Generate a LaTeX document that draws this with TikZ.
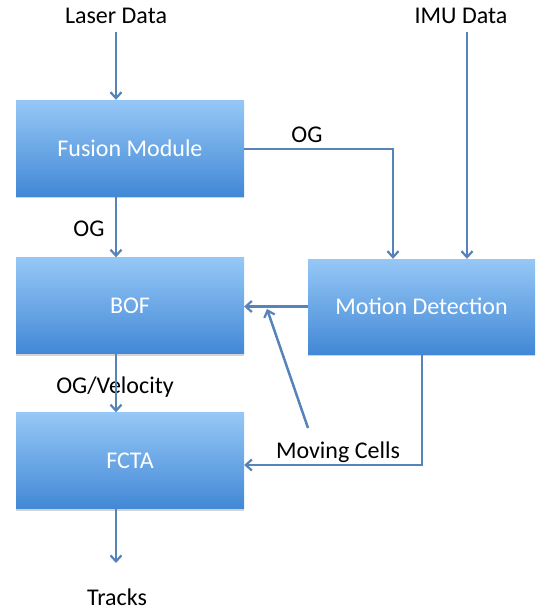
\documentclass[tikz,border=0pt]{standalone}
\usepackage{fontspec}
\setmainfont{Carlito}
\usetikzlibrary{arrows.meta,shadows}
\definecolor{lineblue}{RGB}{86,131,186}
\definecolor{boxtop}{RGB}{150,200,246}
\definecolor{boxbot}{RGB}{66,136,214}
\tikzset{
  box/.style={rectangle, minimum width=228pt, minimum height=96pt, inner sep=0pt,
    top color=boxtop, bottom color=boxbot, draw=none, text=white,
    font=\fontsize{24}{28}\selectfont,
    drop shadow={shadow xshift=0pt, shadow yshift=-2pt, opacity=0.35, fill=gray}},
  lbl/.style={font=\fontsize{24}{28}\selectfont, text=black, inner sep=2pt},
  arr/.style={draw=lineblue, line width=2.5pt, -{Straight Barb[length=6pt,width=11pt,line width=2.2pt]}}
}
\begin{document}
\begin{tikzpicture}[x=1pt,y=-1pt]
\useasboundingbox (0,0) rectangle (540,613);
\node[box] (fus) at (130,148) {Fusion Module};
\node[box] (bof) at (130,305.5) {BOF};
\node[box] (fcta) at (130,460.5) {FCTA};
\node[box, minimum width=227pt, minimum height=95pt] (mot) at (421.5,306.5) {Motion Detection};
\node[lbl] (laser) at (116,16) {Laser Data};
\node[lbl] (imu) at (461,16) {IMU Data};
\node[lbl] (tracks) at (117,597) {Tracks};
\node[lbl] (og1) at (89,229) {OG};
\node[lbl] (og2) at (307,135) {OG};
\node[lbl] (ogv) at (115,387) {OG/Velocity};
\node[lbl] (mcl) at (338,452) {Moving Cells};
\coordinate (lx) at (116,32);
\coordinate (ix) at (467,32);
\coordinate (mct) at (308,428);
\coordinate (mch) at (267,309);
\coordinate (ogx) at (393,149);
\coordinate (mcy) at (422,465);
\coordinate (tre) at (116,563);
\draw[arr] (lx) -- (lx |- fus.north);
\draw[arr] (lx |- fus.south) -- (lx |- bof.north);
\draw[arr] (lx |- bof.south) -- (lx |- fcta.north);
\draw[arr] (lx |- fcta.south) -- (tre);
\draw[arr] (fus.east |- ogx) -| (ogx |- mot.north);
\draw[arr] (ix) -- (ix |- mot.north);
\draw[arr] (mot.west) -- (mot.west -| bof.east);
\draw[arr] (mct) -- (mch);
\draw[arr] (mcy |- mot.south) -- (mcy) -- (mcy -| fcta.east);
\end{tikzpicture}
\end{document}
